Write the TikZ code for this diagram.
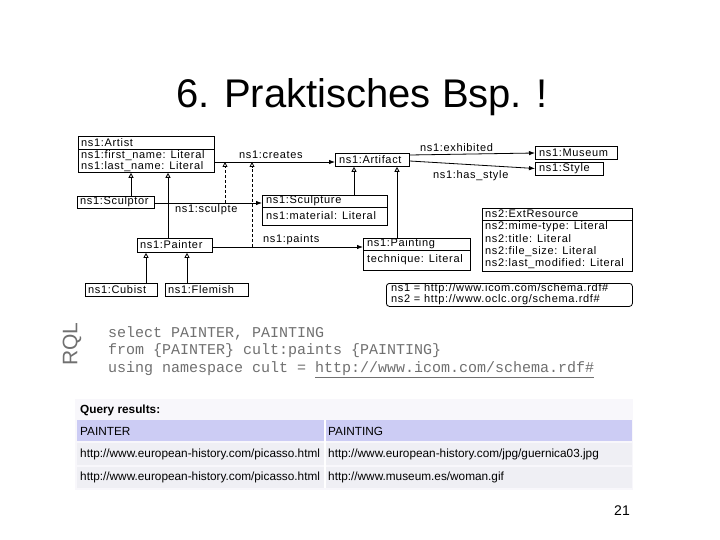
\documentclass[tikz,border=0pt]{standalone}
\usepackage{fontspec}
\setmainfont{Liberation Sans}
\newfontfamily\diagfont[LetterSpace=6]{Liberation Sans}
\newfontfamily\codefont{Liberation Mono}
\usetikzlibrary{arrows.meta}
\definecolor{hdr}{HTML}{CCCCF4}
\definecolor{rowbg}{HTML}{EFEFF4}
\definecolor{tblbg}{HTML}{F8F7FB}
\definecolor{codegray}{HTML}{707070}
\newcommand\mkbox[5]{\node[umlbox, minimum width={#4-#2}, minimum height={#5-#3}] (#1) at (#2,#3) {};}
\begin{document}
\begin{tikzpicture}[x=1pt,y=-1pt,
  umlbox/.style={draw, line width=0.8pt, inner sep=0pt, anchor=north west},
  dtxt/.style={font=\diagfont\fontsize{11}{12}\selectfont, anchor=west, inner sep=0pt},
  inh/.style={line width=0.8pt, -{Triangle[open,length=5pt,width=5pt]}},
  rel/.style={line width=0.8pt, -{Latex[length=6pt,width=4.5pt]}},
  subp/.style={line width=0.8pt, dash pattern=on 3pt off 2pt, -{Triangle[open,length=5pt,width=5pt]}},
  ttxt/.style={font=\fontsize{11.8}{13}\selectfont, anchor=west, inner sep=0pt},
  code/.style={font=\codefont\fontsize{15}{17}\selectfont, text=codegray, anchor=west, inner sep=0pt}
]
\useasboundingbox (0,0) rectangle (720,540);
\fill[white] (0,0) rectangle (720,540);

% title
\node[font=\fontsize{40}{46}\selectfont, inner sep=0pt] (title) at (362,97) {6. Praktisches Bsp. !};

% ---------------- boxes ----------------
\mkbox{Artist}{78}{136}{214}{172}
\draw[line width=0.8pt] (78,149) -- (214,149);
\node[dtxt] (tArtist) at (81,142.5) {ns1:Artist};
\node[dtxt] (tArtA) at (81,155.5) {ns1:first\_name: Literal};
\node[dtxt] (tArtB) at (81,166.5) {ns1:last\_name: Literal};

\mkbox{Sculptor}{77}{196}{154}{208}
\node[dtxt] (tSculptor) at (80,202) {ns1:Sculptor};

\mkbox{Painter}{137}{238}{212}{252}
\node[dtxt] (tPainter) at (140,245) {ns1:Painter};

\mkbox{Cubist}{85}{283}{157}{296}
\node[dtxt] (tCubist) at (88,289.5) {ns1:Cubist};

\mkbox{Flemish}{165}{283}{248}{296}
\node[dtxt] (tFlemish) at (168,289.5) {ns1:Flemish};

\mkbox{Artifact}{335}{153}{409}{166}
\node[dtxt] (tArtifact) at (339,159.5) {ns1:Artifact};

\mkbox{Museum}{535}{146}{617}{159}
\node[dtxt] (tMuseum) at (539,152.5) {ns1:Museum};

\mkbox{Style}{535}{162}{603}{175}
\node[dtxt] (tStyle) at (539,168.5) {ns1:Style};

\mkbox{Sculpture}{262}{195}{387}{225}
\draw[line width=0.8pt] (262,207) -- (387,207);
\node[dtxt] (tSculpture) at (266,201) {ns1:Sculpture};
\node[dtxt] (tSculptureA) at (266,216) {ns1:material: Literal};

\mkbox{Painting}{363}{238}{470}{270}
\draw[line width=0.8pt] (363,250) -- (470,250);
\node[dtxt] (tPainting) at (367,244) {ns1:Painting};
\node[dtxt] (tPaintingA) at (367,260) {technique: Literal};

\mkbox{ExtRes}{482}{208}{632}{271}
\draw[line width=0.8pt] (482,220) -- (632,220);
\node[dtxt] (tExt) at (485,214) {ns2:ExtResource};
\node[dtxt] (tExtA) at (485,226.5) {ns2:mime-type: Literal};
\node[dtxt] (tExtB) at (485,239) {ns2:title: Literal};
\node[dtxt] (tExtC) at (485,251.5) {ns2:file\_size: Literal};
\node[dtxt] (tExtD) at (485,264) {ns2:last\_modified: Literal};

\node[draw, line width=0.8pt, rounded corners=3pt, anchor=north west, minimum width=246, minimum height=23, inner sep=0pt] (NS) at (386,283) {};
\node[dtxt] (tNSa) at (391,289) {ns1 = http://www.icom.com/schema.rdf\#};
\node[dtxt] (tNSb) at (391,300) {ns2 = http://www.oclc.org/schema.rdf\#};

% ---------------- helper coordinates ----------------
\coordinate (x131) at (131,0);
\coordinate (x168) at (168,0);
\coordinate (x146) at (146,0);
\coordinate (x187) at (187,0);
\coordinate (x354) at (354,0);
\coordinate (x397) at (397,0);
\coordinate (y162) at (0,162);
\coordinate (y203) at (0,203);
\coordinate (y247) at (0,247);
\coordinate (y155) at (0,155);
\coordinate (y161) at (0,161);
\coordinate (y168) at (0,168.5);
\coordinate (y153) at (0,153);
\coordinate (subA0) at (225,203);
\coordinate (subA1) at (225,162);
\coordinate (subB0) at (252,247);
\coordinate (subB1) at (252,162);

% ---------------- inheritance ----------------
\draw[inh] (Sculptor.north -| x131) -- (Artist.south -| x131);
\draw[inh] (Painter.north -| x168) -- (Artist.south -| x168);
\draw[inh] (Cubist.north -| x146) -- (Painter.south -| x146);
\draw[inh] (Flemish.north -| x187) -- (Painter.south -| x187);
\draw[inh] (Sculpture.north -| x354) -- (Artifact.south -| x354);
\draw[inh] (Painting.north -| x397) -- (Artifact.south -| x397);

% ---------------- properties ----------------
\draw[rel] (Artist.east |- y162) -- (Artifact.west |- y162);
\node[dtxt] (lCreates) at (239,155) {ns1:creates};
\draw[rel] (Sculptor.east |- y203) -- (Sculpture.west |- y203);
\node[dtxt] (lSculpte) at (175,210) {ns1:sculpte};
\draw[rel] (Painter.east |- y247) -- (Painting.west |- y247);
\node[dtxt] (lPaints) at (263,240) {ns1:paints};
\draw[rel] (Artifact.east |- y155) -- (Museum.west |- y153);
\node[dtxt] (lExhib) at (420,148) {ns1:exhibited};
\draw[rel] (Artifact.east |- y161) -- (Style.west |- y168);
\node[dtxt] (lStyle) at (433,176) {ns1:has\_style};

% subproperties (dashed)
\draw[subp] (subA0) -- (subA1);
\draw[subp] (subB0) -- (subB1);

% ---------------- RQL ----------------
\node[font=\fontsize{21}{24}\selectfont, text=codegray, rotate=90, inner sep=0pt] (rql) at (72,344) {RQL};
\node[code] (c1) at (108,333) {select PAINTER, PAINTING};
\node[code] (c2) at (108,351) {from \{PAINTER\} cult:paints \{PAINTING\}};
\node[code] (c3) at (108,370) {using namespace cult = \underline{http://www.icom.com/schema.rdf\#}};

% ---------------- query results ----------------
\fill[tblbg] (75,399) rectangle (633,490);
\node[ttxt, font=\bfseries\fontsize{11.8}{13}\selectfont] (qr) at (80,410) {Query results:};
\fill[hdr] (77,420) rectangle (632,441);
\fill[rowbg] (77,443) rectangle (632,465);
\fill[rowbg] (77,467) rectangle (632,488);
\draw[white, line width=1.5pt] (325,420) -- (325,488);
\node[ttxt] (h1) at (80,431) {PAINTER};
\node[ttxt] (h2) at (328,431) {PAINTING};
\node[ttxt] (r11) at (80,454) {http://www.european-history.com/picasso.html};
\node[ttxt] (r12) at (328,454) {http://www.european-history.com/jpg/guernica03.jpg};
\node[ttxt] (r21) at (80,477) {http://www.european-history.com/picasso.html};
\node[ttxt] (r22) at (328,477) {http://www.museum.es/woman.gif};

% page number
\node[font=\fontsize{14}{16}\selectfont, inner sep=0pt] (pg) at (622,511) {21};
\end{tikzpicture}
\end{document}
